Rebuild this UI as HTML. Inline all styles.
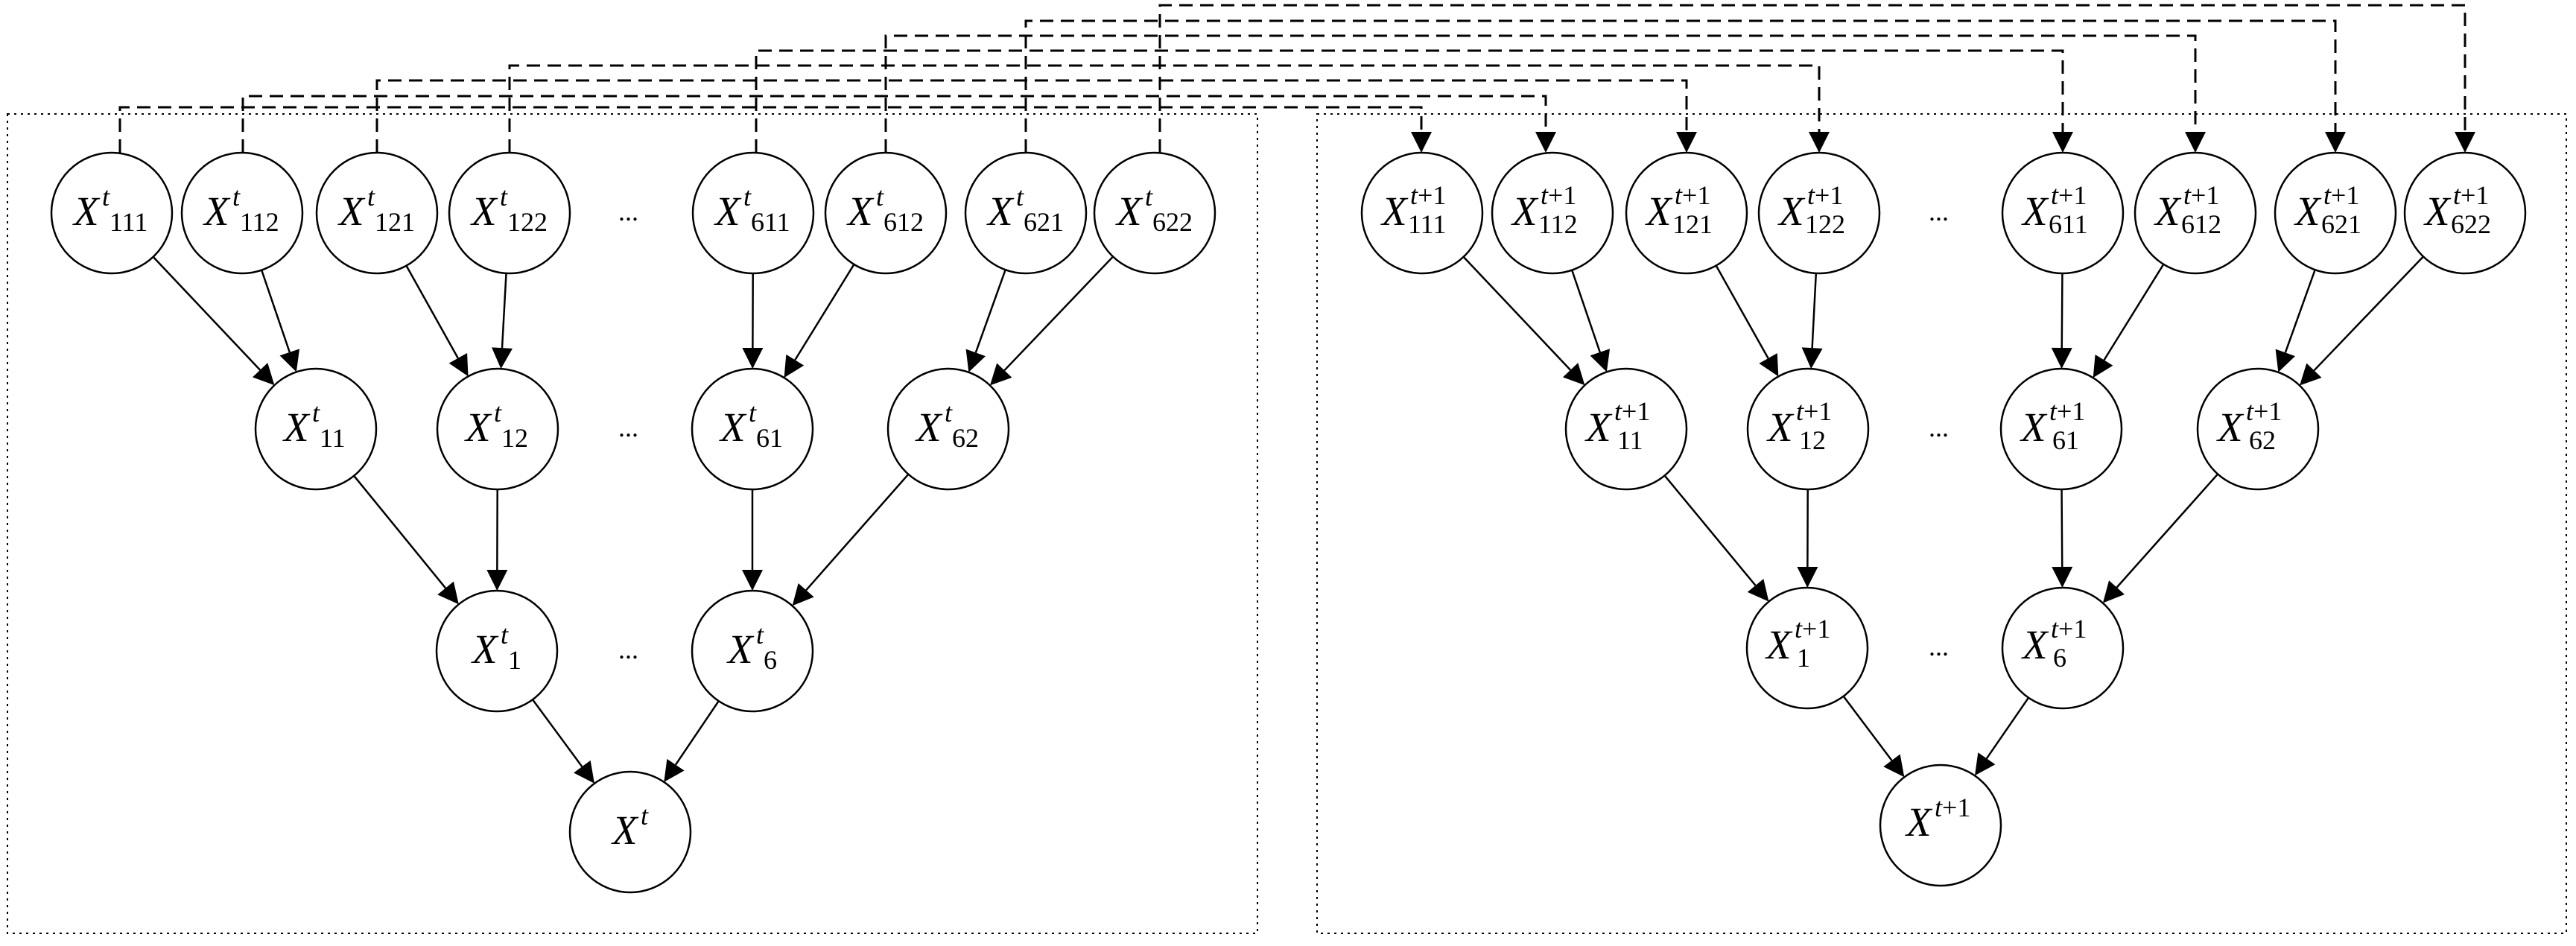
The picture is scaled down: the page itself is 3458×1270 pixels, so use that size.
<!DOCTYPE html>
<html><head><meta charset="utf-8"><style>
html,body{margin:0;padding:0;background:#fff;}
svg{display:block;}
text{font-family:"Liberation Serif",serif;fill:#000;}
.X{font-style:italic;font-size:55px;}
.s{font-size:36px;}
.i{font-style:italic;}
</style></head><body>
<svg id="g" width="3458" height="1270" viewBox="0 0 3458 1270" xmlns="http://www.w3.org/2000/svg">
<rect x="10" y="153" width="1678" height="1100" fill="none" stroke="#000" stroke-width="2" stroke-dasharray="3,6"/>
<rect x="1768" y="153" width="1677" height="1100" fill="none" stroke="#000" stroke-width="2" stroke-dasharray="3,6"/>
<g id="shapes"></g>
<g id="labels">
<!-- left row1 -->
<text x="99" y="302"><tspan class="X">X</tspan></text><text x="137" y="276" class="s i">t</text><text x="147" y="310" class="s">111</text>
<text x="274" y="302"><tspan class="X">X</tspan></text><text x="312" y="276" class="s i">t</text><text x="322" y="310" class="s">112</text>
<text x="455" y="302"><tspan class="X">X</tspan></text><text x="493" y="276" class="s i">t</text><text x="503" y="310" class="s">121</text>
<text x="633" y="302"><tspan class="X">X</tspan></text><text x="671" y="276" class="s i">t</text><text x="681" y="310" class="s">122</text>
<text x="960" y="302"><tspan class="X">X</tspan></text><text x="998" y="276" class="s i">t</text><text x="1008" y="310" class="s">611</text>
<text x="1138" y="302"><tspan class="X">X</tspan></text><text x="1176" y="276" class="s i">t</text><text x="1186" y="310" class="s">612</text>
<text x="1326" y="302"><tspan class="X">X</tspan></text><text x="1364" y="276" class="s i">t</text><text x="1374" y="310" class="s">621</text>
<text x="1499" y="302"><tspan class="X">X</tspan></text><text x="1537" y="276" class="s i">t</text><text x="1547" y="310" class="s">622</text>
<text x="830" y="296" class="s">...</text>
<!-- left row2 -->
<text x="381" y="592"><tspan class="X">X</tspan></text><text x="419" y="566" class="s i">t</text><text x="429" y="600" class="s">11</text>
<text x="625" y="592"><tspan class="X">X</tspan></text><text x="663" y="566" class="s i">t</text><text x="673" y="600" class="s">12</text>
<text x="967" y="592"><tspan class="X">X</tspan></text><text x="1005" y="566" class="s i">t</text><text x="1015" y="600" class="s">61</text>
<text x="1230" y="592"><tspan class="X">X</tspan></text><text x="1268" y="566" class="s i">t</text><text x="1278" y="600" class="s">62</text>
<text x="830" y="586" class="s">...</text>
<!-- left row3 -->
<text x="634" y="890"><tspan class="X">X</tspan></text><text x="672" y="864" class="s i">t</text><text x="682" y="898" class="s">1</text>
<text x="977" y="890"><tspan class="X">X</tspan></text><text x="1015" y="864" class="s i">t</text><text x="1025" y="898" class="s">6</text>
<text x="830" y="884" class="s">...</text>
<!-- left row4 -->
<text x="822" y="1133"><tspan class="X">X</tspan></text><text x="860" y="1107" class="s i">t</text>
<!-- right row1 -->
<text x="1855" y="302"><tspan class="X">X</tspan></text><text x="1893" y="274" class="s"><tspan class="i">t</tspan>+1</text><text x="1890" y="313" class="s">111</text>
<text x="2030" y="302"><tspan class="X">X</tspan></text><text x="2068" y="274" class="s"><tspan class="i">t</tspan>+1</text><text x="2065" y="313" class="s">112</text>
<text x="2210" y="302"><tspan class="X">X</tspan></text><text x="2248" y="274" class="s"><tspan class="i">t</tspan>+1</text><text x="2245" y="313" class="s">121</text>
<text x="2388" y="302"><tspan class="X">X</tspan></text><text x="2426" y="274" class="s"><tspan class="i">t</tspan>+1</text><text x="2423" y="313" class="s">122</text>
<text x="2715" y="302"><tspan class="X">X</tspan></text><text x="2753" y="274" class="s"><tspan class="i">t</tspan>+1</text><text x="2750" y="313" class="s">611</text>
<text x="2893" y="302"><tspan class="X">X</tspan></text><text x="2931" y="274" class="s"><tspan class="i">t</tspan>+1</text><text x="2928" y="313" class="s">612</text>
<text x="3081" y="302"><tspan class="X">X</tspan></text><text x="3119" y="274" class="s"><tspan class="i">t</tspan>+1</text><text x="3116" y="313" class="s">621</text>
<text x="3255" y="302"><tspan class="X">X</tspan></text><text x="3293" y="274" class="s"><tspan class="i">t</tspan>+1</text><text x="3290" y="313" class="s">622</text>
<text x="2589" y="296" class="s">...</text>
<!-- right row2 -->
<text x="2129" y="592"><tspan class="X">X</tspan></text><text x="2167" y="564" class="s"><tspan class="i">t</tspan>+1</text><text x="2171" y="603" class="s">11</text>
<text x="2373" y="592"><tspan class="X">X</tspan></text><text x="2411" y="564" class="s"><tspan class="i">t</tspan>+1</text><text x="2415" y="603" class="s">12</text>
<text x="2713" y="592"><tspan class="X">X</tspan></text><text x="2751" y="564" class="s"><tspan class="i">t</tspan>+1</text><text x="2755" y="603" class="s">61</text>
<text x="2977" y="592"><tspan class="X">X</tspan></text><text x="3015" y="564" class="s"><tspan class="i">t</tspan>+1</text><text x="3019" y="603" class="s">62</text>
<text x="2589" y="586" class="s">...</text>
<!-- right row3 -->
<text x="2371" y="884"><tspan class="X">X</tspan></text><text x="2409" y="856" class="s"><tspan class="i">t</tspan>+1</text><text x="2412" y="895" class="s">1</text>
<text x="2715" y="884"><tspan class="X">X</tspan></text><text x="2753" y="856" class="s"><tspan class="i">t</tspan>+1</text><text x="2756" y="895" class="s">6</text>
<text x="2589" y="880" class="s">...</text>
<!-- right row4 -->
<text x="2559" y="1122"><tspan class="X">X</tspan></text><text x="2597" y="1096" class="s"><tspan class="i">t</tspan>+1</text>
</g>
</svg>
<script>
(function(){
var NS="http://www.w3.org/2000/svg",G=document.getElementById("shapes");
function el(t,a){var e=document.createElementNS(NS,t);for(var k in a)e.setAttribute(k,a[k]);G.appendChild(e);return e;}
var R=81;
var L={r1:[[150,286],[325,286],[506,286],[684,286],[1011,286],[1189,286],[1377,286],[1550,286]],
r2:[[424,576],[668,576],[1010,576],[1273,576]],r3:[[667,874],[1010,874]],r4:[[846,1117]]};
var Rt={r1:[[1909,286],[2084,286],[2264,286],[2442,286],[2769,286],[2947,286],[3135,286],[3309,286]],
r2:[[2183,576],[2427,576],[2767,576],[3031,576]],r3:[[2426,870],[2769,870]],r4:[[2605,1108]]};
function arrow(tx,ty,ux,uy){var len=28,w=14,bx=tx-ux*len,by=ty-uy*len,px=-uy,py=ux;
el("polygon",{points:tx+","+ty+" "+(bx+px*w)+","+(by+py*w)+" "+(bx-px*w)+","+(by-py*w),fill:"#000"});return [bx,by];}
function edge(a,b){var dx=b[0]-a[0],dy=b[1]-a[1],d=Math.sqrt(dx*dx+dy*dy),ux=dx/d,uy=dy/d;
var sx=a[0]+ux*R,sy=a[1]+uy*R,tx=b[0]-ux*R,ty=b[1]-uy*R;var bb=arrow(tx,ty,ux,uy);
el("line",{x1:sx,y1:sy,x2:bb[0],y2:bb[1],stroke:"#000","stroke-width":2.5});}
[L,Rt].forEach(function(N){
 for(var i=0;i<8;i++)edge(N.r1[i],N.r2[Math.floor(i/2)]);
 for(var i=0;i<4;i++)edge(N.r2[i],N.r3[Math.floor(i/2)]);
 edge(N.r3[0],N.r4[0]);edge(N.r3[1],N.r4[0]);
 ["r1","r2","r3","r4"].forEach(function(r){N[r].forEach(function(c){
  el("circle",{cx:c[0],cy:c[1],r:R,fill:"none",stroke:"#000","stroke-width":2.5});});});
});
var sx=[161,326,506,684,1015,1189,1377,1557],tx=[1908,2075,2264,2442,2769,2947,3135,3309],lv=[144,129,108,88,68,48,28,7];
for(var i=0;i<8;i++){
 var p="M"+sx[i]+",205 L"+sx[i]+","+lv[i]+" L"+tx[i]+","+lv[i]+" L"+tx[i]+",177";
 el("path",{d:p,fill:"none",stroke:"#000","stroke-width":3,"stroke-dasharray":"18,10"});
 arrow(tx[i],205,0,1);
}
})();
</script>
</body></html>
